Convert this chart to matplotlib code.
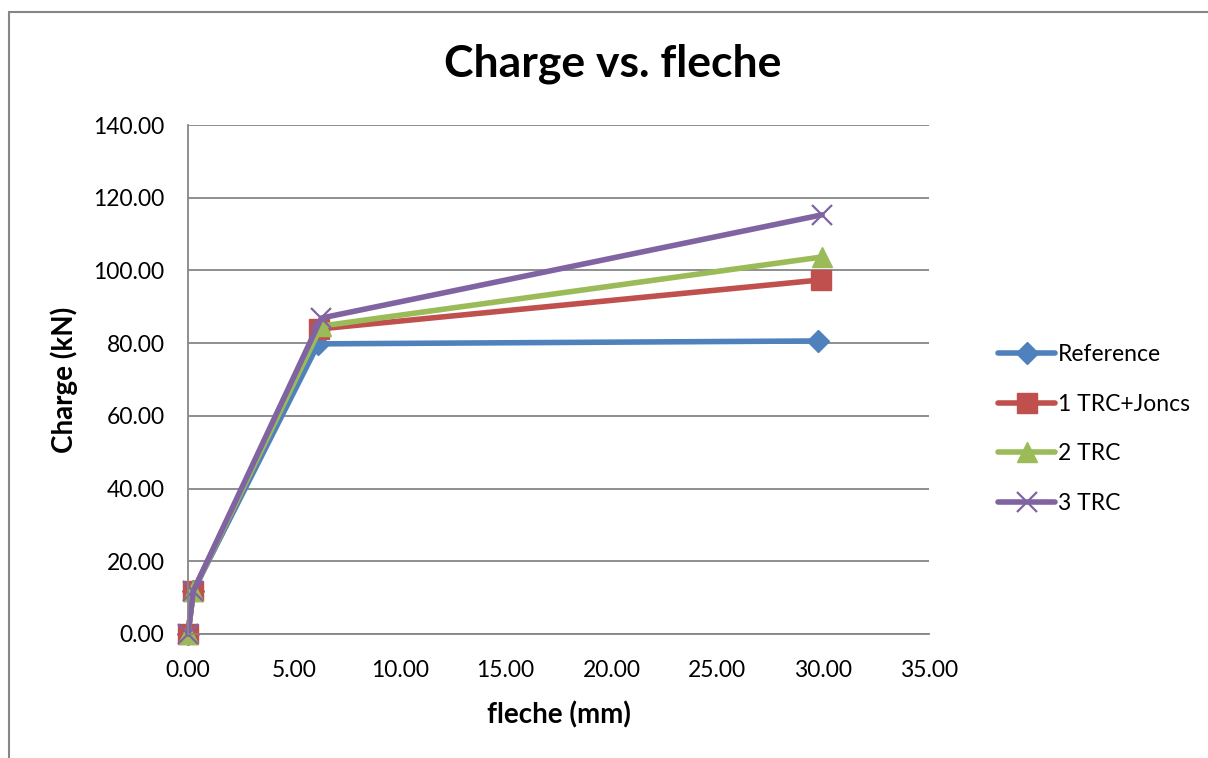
import matplotlib
matplotlib.use("Agg")
import matplotlib.pyplot as plt
from matplotlib.patches import Rectangle

plt.rcParams['font.family'] = ['Lato', 'DejaVu Sans']

series_names = ["Reference", "1 TRC+Joncs", "2 TRC", "3 TRC"]
x_reference = [0.00, 0.25, 6.15, 29.75]
y_reference = [0.00, 11.8, 79.8, 80.6]
x_trc1 = [0.00, 0.25, 6.20, 29.90]
y_trc1 = [0.00, 11.8, 83.9, 97.4]
x_trc2 = [0.00, 0.25, 6.30, 29.95]
y_trc2 = [0.00, 11.8, 84.7, 103.7]
x_trc3 = [0.00, 0.25, 6.30, 29.95]
y_trc3 = [0.00, 11.8, 86.9, 115.3]
x_ticks = [0, 5, 10, 15, 20, 25, 30, 35]
y_ticks = [0, 20, 40, 60, 80, 100, 120, 140]

colors = ["#4F81BD", "#C0504D", "#9BBB59", "#8064A2"]
markers = ["D", "s", "^", "x"]
msizes = [11, 15, 15, 15]

fig = plt.figure(figsize=(12.08, 7.58), dpi=100)
fig.patches.append(Rectangle((9/1208, -0.05), 1.2, 1 - 12/758 + 0.05,
                             transform=fig.transFigure, fill=False,
                             edgecolor="#868686", linewidth=1.5))
ax = fig.add_axes([188/1208, 1 - 634/758, (929-188)/1208, (634-125)/758])

data = [(x_reference, y_reference), (x_trc1, y_trc1), (x_trc2, y_trc2), (x_trc3, y_trc3)]
for (xs, ys), name, c, m, ms in zip(data, series_names, colors, markers, msizes):
    kw = dict(markeredgewidth=1.6) if m == "x" else dict(markeredgecolor=c)
    ax.plot(xs, ys, color=c, linewidth=4, marker=m, markersize=ms, label=name,
            solid_capstyle="round", solid_joinstyle="round", clip_on=False, **kw)

ax.set_xlim(0, 35)
ax.set_ylim(0, 140)
ax.set_xticks(x_ticks)
ax.set_yticks(y_ticks)
ax.set_xticklabels([f"{v:.2f}" for v in x_ticks])
ax.set_yticklabels([f"{v:.2f}" for v in y_ticks])
ax.tick_params(length=0, labelsize=16.5)
ax.tick_params(axis="x", pad=19)
ax.tick_params(axis="y", pad=17)
ax.yaxis.grid(True, color="#868686", linewidth=1.3)
ax.set_axisbelow(True)
for s in ["top", "right"]:
    ax.spines[s].set_visible(False)
for s in ["left", "bottom"]:
    ax.spines[s].set_color("#868686")
    ax.spines[s].set_linewidth(1.3)

ax.set_xlabel("fleche (mm)", fontsize=20, fontweight="bold", labelpad=14)
ax.set_ylabel("Charge (kN)", fontsize=20, fontweight="bold", labelpad=11)
fig.text(613/1208, 1 - 64/758, "Charge vs. fleche", fontsize=32, fontweight="bold",
         ha="center", va="center")

leg = fig.legend(loc="center left", bbox_to_anchor=(998/1208, 1 - 429/758),
                 frameon=False, fontsize=16.5, handlelength=2.5, labelspacing=1.25,
                 handletextpad=0.1, borderaxespad=0, borderpad=0)

fig.savefig("out.png", dpi=100)
